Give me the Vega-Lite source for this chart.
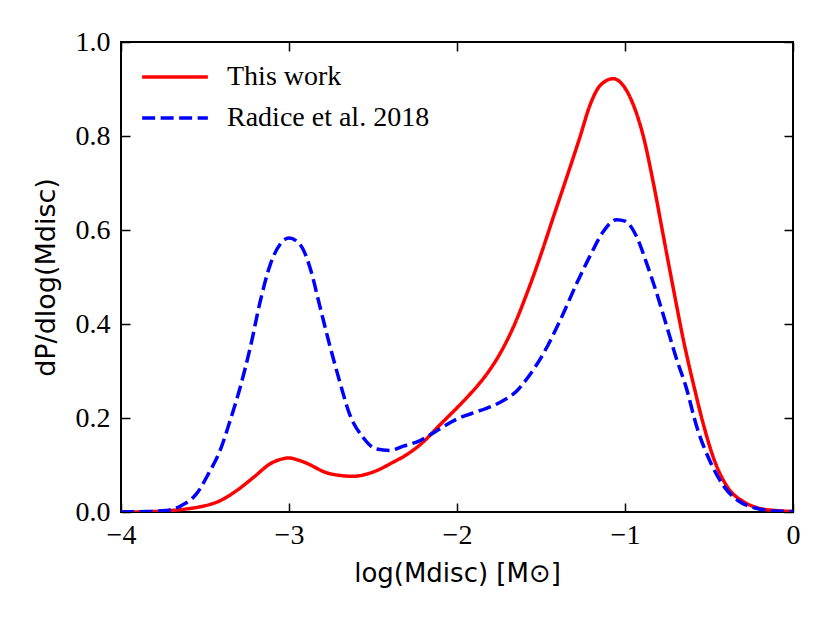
{
  "$schema": "https://vega.github.io/schema/vega-lite/v6.json",
  "width": 672,
  "height": 470,
  "autosize": "none",
  "padding": {"left": 121, "top": 42, "right": 37, "bottom": 111},
  "background": "white",
  "data": {
    "values": [
      {"s": "This work", "x": -4.0, "y": 0.0},
      {"s": "This work", "x": -3.85, "y": 0.0005},
      {"s": "This work", "x": -3.71, "y": 0.003},
      {"s": "This work", "x": -3.6, "y": 0.007},
      {"s": "This work", "x": -3.53, "y": 0.011},
      {"s": "This work", "x": -3.41, "y": 0.024},
      {"s": "This work", "x": -3.31, "y": 0.046},
      {"s": "This work", "x": -3.21, "y": 0.074},
      {"s": "This work", "x": -3.11, "y": 0.103},
      {"s": "This work", "x": -3.05, "y": 0.112},
      {"s": "This work", "x": -3.0, "y": 0.115},
      {"s": "This work", "x": -2.95, "y": 0.111},
      {"s": "This work", "x": -2.89, "y": 0.103},
      {"s": "This work", "x": -2.78, "y": 0.084},
      {"s": "This work", "x": -2.7, "y": 0.078},
      {"s": "This work", "x": -2.62, "y": 0.076},
      {"s": "This work", "x": -2.5, "y": 0.085},
      {"s": "This work", "x": -2.38, "y": 0.106},
      {"s": "This work", "x": -2.3, "y": 0.122},
      {"s": "This work", "x": -2.22, "y": 0.143},
      {"s": "This work", "x": -2.1, "y": 0.186},
      {"s": "This work", "x": -1.94, "y": 0.244},
      {"s": "This work", "x": -1.87, "y": 0.272},
      {"s": "This work", "x": -1.8, "y": 0.305},
      {"s": "This work", "x": -1.744, "y": 0.337},
      {"s": "This work", "x": -1.665, "y": 0.393},
      {"s": "This work", "x": -1.585, "y": 0.464},
      {"s": "This work", "x": -1.506, "y": 0.542},
      {"s": "This work", "x": -1.427, "y": 0.627},
      {"s": "This work", "x": -1.347, "y": 0.712},
      {"s": "This work", "x": -1.268, "y": 0.798},
      {"s": "This work", "x": -1.208, "y": 0.866},
      {"s": "This work", "x": -1.149, "y": 0.907},
      {"s": "This work", "x": -1.069, "y": 0.922},
      {"s": "This work", "x": -1.01, "y": 0.907},
      {"s": "This work", "x": -0.95, "y": 0.866},
      {"s": "This work", "x": -0.89, "y": 0.798},
      {"s": "This work", "x": -0.83, "y": 0.698},
      {"s": "This work", "x": -0.77, "y": 0.584},
      {"s": "This work", "x": -0.71, "y": 0.471},
      {"s": "This work", "x": -0.65, "y": 0.362},
      {"s": "This work", "x": -0.59, "y": 0.268},
      {"s": "This work", "x": -0.53, "y": 0.182},
      {"s": "This work", "x": -0.47, "y": 0.112},
      {"s": "This work", "x": -0.39, "y": 0.053},
      {"s": "This work", "x": -0.29, "y": 0.021},
      {"s": "This work", "x": -0.19, "y": 0.007},
      {"s": "This work", "x": -0.1, "y": 0.003},
      {"s": "This work", "x": 0.0, "y": 0.001},
      {"s": "Radice et al. 2018", "x": -4.0, "y": 0.0},
      {"s": "Radice et al. 2018", "x": -3.85, "y": 0.001},
      {"s": "Radice et al. 2018", "x": -3.73, "y": 0.003},
      {"s": "Radice et al. 2018", "x": -3.64, "y": 0.014},
      {"s": "Radice et al. 2018", "x": -3.55, "y": 0.039},
      {"s": "Radice et al. 2018", "x": -3.48, "y": 0.081},
      {"s": "Radice et al. 2018", "x": -3.41, "y": 0.131},
      {"s": "Radice et al. 2018", "x": -3.35, "y": 0.195},
      {"s": "Radice et al. 2018", "x": -3.29, "y": 0.266},
      {"s": "Radice et al. 2018", "x": -3.23, "y": 0.351},
      {"s": "Radice et al. 2018", "x": -3.17, "y": 0.45},
      {"s": "Radice et al. 2018", "x": -3.11, "y": 0.528},
      {"s": "Radice et al. 2018", "x": -3.05, "y": 0.571},
      {"s": "Radice et al. 2018", "x": -3.0, "y": 0.583},
      {"s": "Radice et al. 2018", "x": -2.93, "y": 0.567},
      {"s": "Radice et al. 2018", "x": -2.87, "y": 0.514},
      {"s": "Radice et al. 2018", "x": -2.82, "y": 0.443},
      {"s": "Radice et al. 2018", "x": -2.76, "y": 0.358},
      {"s": "Radice et al. 2018", "x": -2.7, "y": 0.28},
      {"s": "Radice et al. 2018", "x": -2.64, "y": 0.209},
      {"s": "Radice et al. 2018", "x": -2.56, "y": 0.159},
      {"s": "Radice et al. 2018", "x": -2.48, "y": 0.134},
      {"s": "Radice et al. 2018", "x": -2.4, "y": 0.131},
      {"s": "Radice et al. 2018", "x": -2.32, "y": 0.14},
      {"s": "Radice et al. 2018", "x": -2.22, "y": 0.152},
      {"s": "Radice et al. 2018", "x": -2.12, "y": 0.173},
      {"s": "Radice et al. 2018", "x": -2.0, "y": 0.198},
      {"s": "Radice et al. 2018", "x": -1.86, "y": 0.216},
      {"s": "Radice et al. 2018", "x": -1.74, "y": 0.234},
      {"s": "Radice et al. 2018", "x": -1.64, "y": 0.259},
      {"s": "Radice et al. 2018", "x": -1.585, "y": 0.283},
      {"s": "Radice et al. 2018", "x": -1.486, "y": 0.337},
      {"s": "Radice et al. 2018", "x": -1.387, "y": 0.407},
      {"s": "Radice et al. 2018", "x": -1.288, "y": 0.486},
      {"s": "Radice et al. 2018", "x": -1.208, "y": 0.545},
      {"s": "Radice et al. 2018", "x": -1.129, "y": 0.597},
      {"s": "Radice et al. 2018", "x": -1.05, "y": 0.622},
      {"s": "Radice et al. 2018", "x": -1.0, "y": 0.619},
      {"s": "Radice et al. 2018", "x": -0.93, "y": 0.585},
      {"s": "Radice et al. 2018", "x": -0.87, "y": 0.528},
      {"s": "Radice et al. 2018", "x": -0.81, "y": 0.464},
      {"s": "Radice et al. 2018", "x": -0.75, "y": 0.393},
      {"s": "Radice et al. 2018", "x": -0.69, "y": 0.322},
      {"s": "Radice et al. 2018", "x": -0.64, "y": 0.27},
      {"s": "Radice et al. 2018", "x": -0.57, "y": 0.178},
      {"s": "Radice et al. 2018", "x": -0.49, "y": 0.105},
      {"s": "Radice et al. 2018", "x": -0.41, "y": 0.054},
      {"s": "Radice et al. 2018", "x": -0.33, "y": 0.025},
      {"s": "Radice et al. 2018", "x": -0.23, "y": 0.009},
      {"s": "Radice et al. 2018", "x": -0.1, "y": 0.002},
      {"s": "Radice et al. 2018", "x": 0.0, "y": 0.001}
    ]
  },
  "layer": [
    {
      "mark": {"type": "line", "strokeWidth": 3.5, "interpolate": "monotone", "clip": true},
      "encoding": {
        "x": {
          "field": "x",
          "type": "quantitative",
          "scale": {"domain": [-4, 0], "nice": false, "zero": false},
          "axis": {
            "orient": "bottom",
            "values": [-4, -3, -2, -1, 0],
            "format": "d",
            "title": "log(Mdisc) [M⊙]",
            "titleFont": "DejaVu Sans",
            "titleFontSize": 26,
            "titleFontWeight": "normal",
            "titleColor": "black",
            "titlePadding": 11,
            "labelFont": "Liberation Serif",
            "labelFontSize": 28,
            "labelColor": "black",
            "labelPadding": 18,
            "labelFlush": false,
            "tickSize": -9,
            "tickWidth": 1.5,
            "tickColor": "black",
            "domain": false,
            "grid": false
          }
        },
        "y": {
          "field": "y",
          "type": "quantitative",
          "scale": {"domain": [0, 1], "nice": false},
          "axis": {
            "orient": "left",
            "values": [0, 0.2, 0.4, 0.6, 0.8, 1.0],
            "format": ".1f",
            "title": "dP/dlog(Mdisc)",
            "titleFont": "DejaVu Sans",
            "titleFontSize": 27,
            "titleFontWeight": "normal",
            "titleColor": "black",
            "titlePadding": 15,
            "labelFont": "Liberation Serif",
            "labelFontSize": 28,
            "labelColor": "black",
            "labelPadding": 20,
            "labelFlush": false,
            "tickSize": -9,
            "tickWidth": 1.5,
            "tickColor": "black",
            "domain": false,
            "grid": false
          }
        },
        "color": {
          "field": "s",
          "type": "nominal",
          "scale": {"domain": ["This work", "Radice et al. 2018"], "range": ["#ff0000", "#0000ff"]},
          "legend": {
            "title": null,
            "orient": "none",
            "legendX": 40,
            "legendY": 21,
            "symbolType": "M-3,0H3",
            "symbolSize": 480,
            "symbolStrokeWidth": 3.5,
            "labelFont": "Liberation Serif",
            "labelFontSize": 28,
            "labelColor": "black",
            "labelOffset": 38,
            "labelLimit": 0,
            "rowPadding": 13
          }
        },
        "strokeDash": {
          "field": "s",
          "type": "nominal",
          "scale": {"domain": ["This work", "Radice et al. 2018"], "range": [[1, 0], [13, 5.5]]},
          "legend": {
            "title": null,
            "orient": "none",
            "legendX": 40,
            "legendY": 21,
            "symbolType": "M-3,0H3",
            "symbolSize": 480,
            "symbolStrokeWidth": 3.5,
            "labelFont": "Liberation Serif",
            "labelFontSize": 28,
            "labelColor": "black",
            "labelOffset": 38,
            "labelLimit": 0,
            "rowPadding": 13
          }
        }
      }
    },
    {
      "mark": {"type": "line", "opacity": 0},
      "encoding": {
        "x": {
          "field": "x",
          "type": "quantitative",
          "axis": {
            "orient": "top",
            "values": [-4, -3, -2, -1, 0],
            "labels": false,
            "title": null,
            "tickSize": -9,
            "tickWidth": 1.5,
            "tickColor": "black",
            "domain": false,
            "grid": false
          }
        },
        "y": {
          "field": "y",
          "type": "quantitative",
          "axis": {
            "orient": "right",
            "values": [0, 0.2, 0.4, 0.6, 0.8, 1.0],
            "labels": false,
            "title": null,
            "tickSize": -9,
            "tickWidth": 1.5,
            "tickColor": "black",
            "domain": false,
            "grid": false
          }
        },
        "detail": {"field": "s", "type": "nominal"}
      }
    }
  ],
  "resolve": {"axis": {"x": "independent", "y": "independent"}},
  "config": {
    "view": {"stroke": "black", "strokeWidth": 2}
  }
}
